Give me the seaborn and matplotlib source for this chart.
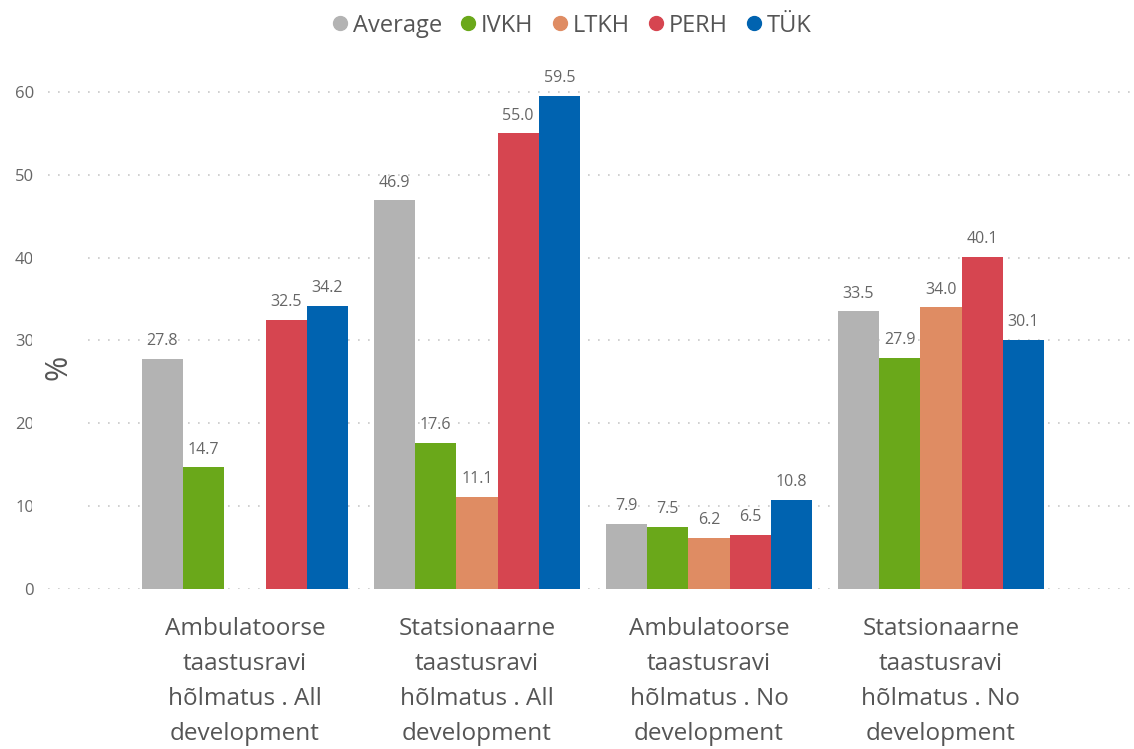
import numpy as np
import pandas as pd
import seaborn as sns
import matplotlib.pyplot as plt
from matplotlib.lines import Line2D
from matplotlib.patches import Rectangle

categories = [
    "Ambulatoorse\ntaastusravi\nhõlmatus . All\ndevelopment",
    "Statsionaarne\ntaastusravi\nhõlmatus . All\ndevelopment",
    "Ambulatoorse\ntaastusravi\nhõlmatus . No\ndevelopment",
    "Statsionaarne\ntaastusravi\nhõlmatus . No\ndevelopment",
]
series = ["Average", "IVKH", "LTKH", "PERH", "TÜK"]
average = [27.8, 46.9, 7.9, 33.5]
ivkh = [14.7, 17.6, 7.5, 27.9]
ltkh = [np.nan, 11.1, 6.2, 34.0]
perh = [32.5, 55.0, 6.5, 40.1]
tuk = [34.2, 59.5, 10.8, 30.1]
yticks = [0, 10, 20, 30, 40, 50, 60]

colors = ["#B3B3B3", "#6AA81A", "#DF8C63", "#D64550", "#0063B0"]

rows = []
for name, vals in zip(series, [average, ivkh, ltkh, perh, tuk]):
    for cat, v in zip(categories, vals):
        rows.append({"category": cat, "series": name, "value": v})
df = pd.DataFrame(rows)

sns.set_theme(style="white")
plt.rcParams["font.family"] = ["Open Sans", "DejaVu Sans"]

fig = plt.figure(figsize=(11.34, 7.49), dpi=100)
ax = fig.add_axes([48 / 1134, 1 - 589 / 749, (1130 - 48) / 1134, (589 - 75.4) / 749])

sns.barplot(data=df, x="category", y="value", hue="series", order=categories,
            hue_order=series, palette=colors, width=0.89, ax=ax,
            errorbar=None, legend=False, linewidth=0, saturation=1)

ax.set_xlim(-0.849, 3.815)
ax.set_ylim(0, 62)
ax.set_yticks(yticks)
ax.set_yticklabels([str(t) for t in yticks])
ax.yaxis.grid(True, linestyle=(0, (1, 5)), color="#C8C8C8", linewidth=1.2)
ax.xaxis.grid(False)
ax.set_axisbelow(True)
for s in ax.spines.values():
    s.set_visible(False)
ax.tick_params(axis="y", length=0, pad=10, labelsize=12, labelcolor="#666666")
ax.tick_params(axis="x", length=0, pad=20, labelsize=17.5, labelcolor="#555555")
for lbl in ax.get_xticklabels():
    lbl.set_linespacing(1.62)
ax.set_xlabel("")
ax.set_ylabel("")

# value labels above each bar
for container in ax.containers:
    labels = ["" if np.isnan(v) else f"{v:.1f}" for v in container.datavalues]
    ax.bar_label(container, labels=labels, padding=7, fontsize=11.5,
                 color="#666666", clip_on=False)

# axis title box
fig.patches.append(Rectangle((32 / 1134, 1 - 515 / 749), (87 - 32) / 1134, (515 - 243) / 749,
                             transform=fig.transFigure, facecolor="white",
                             edgecolor="none", zorder=1))
fig.text(58 / 1134, 1 - 367 / 749, "%", rotation=90, fontsize=22, color="#555555",
         ha="center", va="center", zorder=2)

handles = [Line2D([], [], marker="o", linestyle="", markersize=10,
                  markerfacecolor=c, markeredgecolor=c) for c in colors]
fig.legend(handles, series, loc="upper center", bbox_to_anchor=(0.502, 1.01), ncol=5,
           frameon=False, fontsize=17, labelcolor="#555555", handletextpad=0.0,
           columnspacing=0.55, handlelength=1.1)

fig.savefig("out.png", dpi=100)
